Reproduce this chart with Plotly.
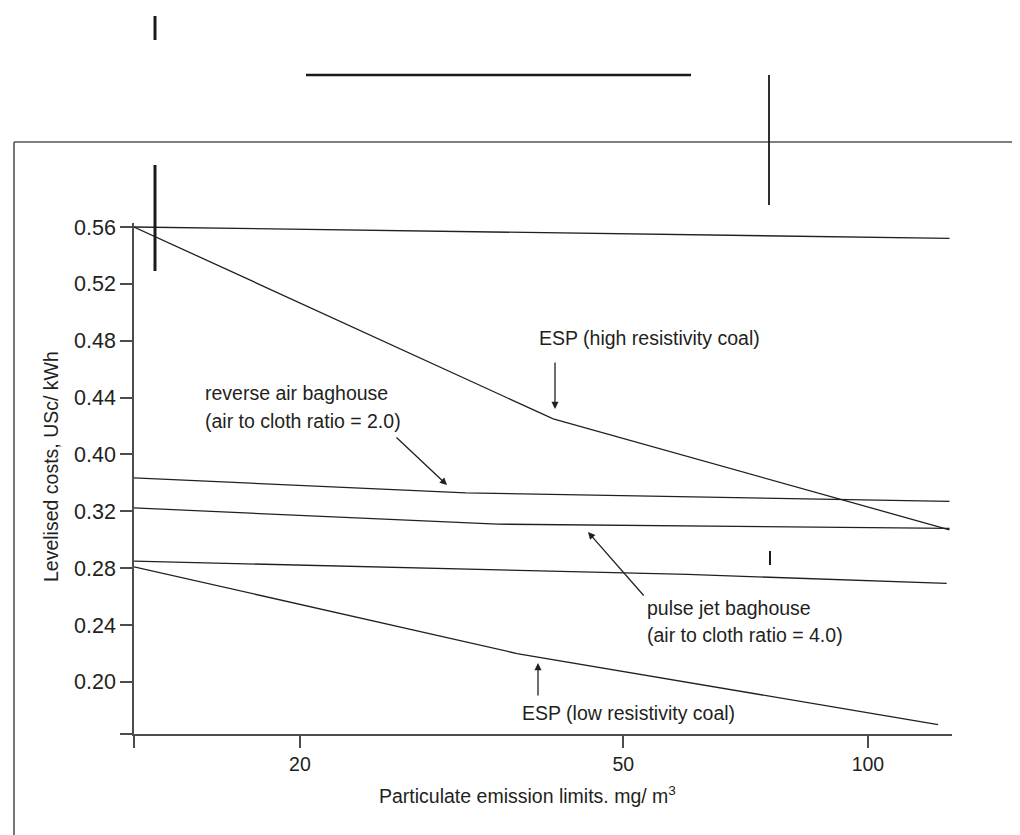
import math
import plotly.graph_objects as go

# ---------------- data ----------------
# x: particulate emission limit (mg/m3, log axis); y: levelised cost (USc/kWh)
top_x = [12.5, 126]
top_y = [0.520, 0.512]

esp_high_x = [12.5, 41, 126]
esp_high_y = [0.520, 0.385, 0.307]

rev_air_x = [12.5, 32, 126]
rev_air_y = [0.3435, 0.333, 0.327]

pulse_x = [12.5, 35, 126]
pulse_y = [0.3224, 0.311, 0.308]

low_flat_x = [12.5, 60, 125]
low_flat_y = [0.285, 0.2756, 0.2694]

esp_low_x = [12.5, 37, 122]
esp_low_y = [0.281, 0.220, 0.170]

y_tickvals = [0.52, 0.48, 0.44, 0.40, 0.36, 0.32, 0.28, 0.24, 0.20, 0.1634]
y_ticktext = ["0.56", "0.52", "0.48", "0.44", "0.40", "0.32", "0.28", "0.24", "0.20", ""]
x_tickvals = [12.5, 20, 50, 100]
x_ticktext = ["", "20", "50", "100"]

# ---------------- layout geometry ----------------
W, H = 1020, 835
ML, MR, MT, MB = 126, 76, 215, 109
PW, PH = W - ML - MR, H - MT - MB
X_RANGE = [math.log10(12.5), math.log10(126.9)]
Y_RANGE = [0.1634, 0.5228]

INK = "#231f20"
AXC = "#4d4d4d"
FONT = "Liberation Sans, Arial, sans-serif"


def fx(px):
    return (px - ML) / PW


def fy(py):
    return (H - MB - py) / PH


fig = go.Figure()
for xs, ys in [(top_x, top_y), (esp_high_x, esp_high_y), (rev_air_x, rev_air_y),
               (pulse_x, pulse_y), (low_flat_x, low_flat_y), (esp_low_x, esp_low_y)]:
    fig.add_trace(go.Scatter(x=xs, y=ys, mode="lines",
                             line=dict(color=INK, width=1.3),
                             showlegend=False, hoverinfo="skip"))

annotations = []


def text(s, px, py, xanchor="left", size=19.5, angle=0):
    annotations.append(dict(text=s, x=fx(px), y=fy(py), xref="paper", yref="paper",
                            xanchor=xanchor, yanchor="middle", showarrow=False,
                            textangle=angle,
                            font=dict(family=FONT, size=size, color=INK)))


def arrow(tip_px, tip_py, ax, ay):
    annotations.append(dict(text="", x=fx(tip_px), y=fy(tip_py), xref="paper", yref="paper",
                            showarrow=True, ax=ax, ay=ay, arrowhead=2, arrowsize=1.1,
                            arrowwidth=1.3, arrowcolor=INK))


text("reverse air baghouse", 195, 385)
text("(air to cloth ratio = 2.0)", 195, 413)
text("ESP (high resistivity coal)", 641, 330, xanchor="center")
text("pulse jet baghouse", 637, 600)
text("(air to cloth ratio = 4.0)", 637, 627)
text("ESP (low resistivity coal)", 620, 705, xanchor="center")
text("Particulate emission limits. mg/ m<sup>3</sup>", 519, 787, xanchor="center")
text("Levelised costs, USc/ kWh", 43, 459, xanchor="center", angle=-90)

arrow(547, 401, 0, -48)
arrow(439, 477, -52, -49)
arrow(580, 524, 57, 65)
arrow(530, 655, 0, 34)

shapes = []


def seg(x0, y0, x1, y1, w, c="#1a1a1a"):
    shapes.append(dict(type="line", xref="paper", yref="paper",
                       x0=fx(x0), y0=fy(y0), x1=fx(x1), y1=fy(y1),
                       line=dict(color=c, width=w)))


# frame of the scanned figure
seg(6, 134, 1030, 134, 1.6, "#555555")
seg(6, 134, 6, 845, 1.6, "#555555")
# scan marks
seg(147, 8, 147, 32, 3)
seg(298, 67, 683, 67, 2.5)
seg(761, 67, 761, 197, 1.8)
seg(147, 157, 147, 263, 3)
seg(762, 543, 762, 557, 2)

fig.update_layout(
    width=W, height=H,
    margin=dict(l=ML, r=MR, t=MT, b=MB),
    paper_bgcolor="white", plot_bgcolor="white",
    showlegend=False,
    annotations=annotations, shapes=shapes,
    xaxis=dict(type="log", range=X_RANGE, tickvals=x_tickvals, ticktext=x_ticktext,
               showline=True, linecolor=AXC, linewidth=1.5, ticks="outside",
               ticklen=12, tickwidth=1.5, tickcolor=AXC, showgrid=False, zeroline=False,
               tickfont=dict(family=FONT, size=19.5, color=INK)),
    yaxis=dict(range=Y_RANGE, tickvals=y_tickvals, ticktext=y_ticktext,
               showline=True, linecolor=AXC, linewidth=1.5, ticks="outside",
               ticklen=12, tickwidth=1.5, tickcolor=AXC, showgrid=False, zeroline=False,
               tickfont=dict(family=FONT, size=21.5, color=INK)),
)

fig.write_html("out.html")
